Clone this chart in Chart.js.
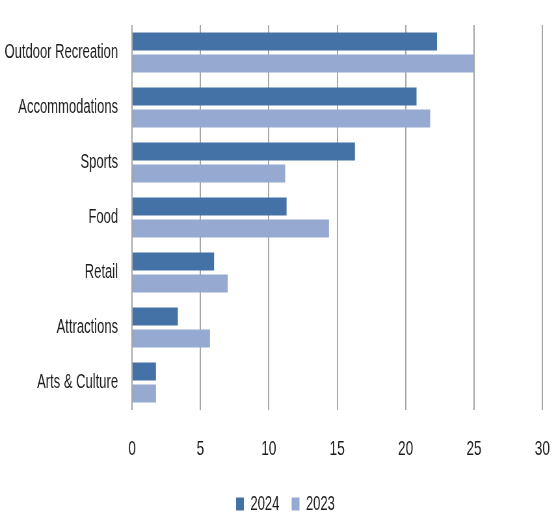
<!DOCTYPE html>
<html>
<head>
<meta charset="utf-8">
<script src="https://cdn.jsdelivr.net/npm/chart.js@4"></script>
<style>
  html, body { margin: 0; padding: 0; background: #fff; overflow: hidden; }
  #wrap { width: 858px; height: 512px; transform: scaleX(0.6503); transform-origin: 0 0; }
</style>
</head>
<body>
<div id="wrap"><canvas id="c" width="858" height="512"></canvas></div>
<script>
const categories = ["Outdoor Recreation", "Accommodations", "Sports", "Food", "Retail", "Attractions", "Arts & Culture"];
const values2024 = [22.3, 20.8, 16.3, 11.3, 6.0, 3.35, 1.75];
const values2023 = [25.0, 21.8, 11.2, 14.4, 7.0, 5.7, 1.75];
const xTicks = [0, 5, 10, 15, 20, 25, 30];

const textColor = '#1c1c1c';
const legendShift = {
  id: 'legendShift',
  afterLayout(chart) {
    if (chart.legend) { chart.legend.left += 22; chart.legend.right += 22; }
  }
};
new Chart(document.getElementById('c'), {
  type: 'bar',
  data: {
    labels: categories,
    datasets: [
      { label: '2024', data: values2024, backgroundColor: '#4472A7', categoryPercentage: 0.808, barPercentage: 0.81 },
      { label: '2023', data: values2023, backgroundColor: '#95A9D1', categoryPercentage: 0.808, barPercentage: 0.81 }
    ]
  },
  plugins: [legendShift],
  options: {
    indexAxis: 'y',
    responsive: false,
    animation: false,
    devicePixelRatio: 1,
    layout: { padding: { top: 25, right: 24, bottom: -12, left: 0 } },
    plugins: {
      legend: {
        position: 'bottom',
        labels: {
          boxWidth: 12, boxHeight: 13, padding: 19,
          color: textColor,
          font: { family: 'Liberation Sans', size: 20 }
        }
      },
      tooltip: { enabled: false }
    },
    scales: {
      x: {
        min: 0, max: 30,
        afterBuildTicks: (s) => { s.ticks = xTicks.map(v => ({ value: v })); },
        afterFit: (s) => { s.height = 65; },
        grid: { color: '#A6A6A6', lineWidth: 2, drawTicks: true, tickLength: 27, tickColor: 'rgba(0,0,0,0)' },
        border: { display: false },
        ticks: { padding: 0, color: textColor, font: { family: 'Liberation Sans', size: 21 } }
      },
      y: {
        afterFit: (s) => { s.width = 203; },
        grid: { display: true, drawOnChartArea: false, drawTicks: true, tickLength: 21.5, tickColor: 'rgba(0,0,0,0)', color: 'rgba(0,0,0,0)' },
        border: { display: false },
        ticks: { padding: 0, color: textColor, font: { family: 'Liberation Sans', size: 20 } }
      }
    }
  }
});
</script>
</body>
</html>
